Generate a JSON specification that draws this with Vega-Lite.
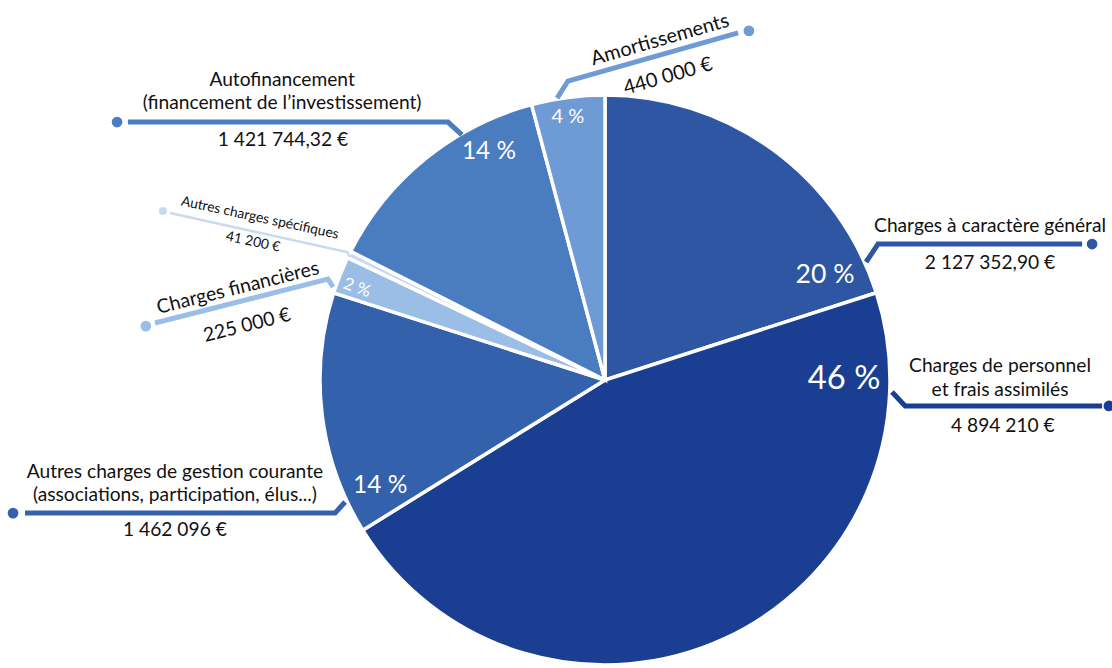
{
  "$schema": "https://vega.github.io/schema/vega-lite/v6.json",
  "width": 1014,
  "height": 576,
  "autosize": {"type": "none"},
  "padding": {"left": 98, "top": 92, "right": 0, "bottom": 0},
  "background": "white",
  "config": {"view": {"stroke": null}, "font": "Lato"},
  "datasets": {
    "slices": [
      {"poste": "Charges à caractère général", "value": 2127352.90, "pct": 20.05, "pctText": "20 %", "rank": 1, "lu": 0.772, "lv": 0.368},
      {"poste": "Charges de personnel et frais assimilés", "value": 4894210, "pct": 46.12, "pctText": "46 %", "rank": 2, "lu": 0.839, "lv": 0.004},
      {"poste": "Autres charges de gestion courante", "value": 1462096, "pct": 13.78, "pctText": "14 %", "rank": 3, "lu": -0.789, "lv": -0.372},
      {"poste": "Charges financières", "value": 225000, "pct": 2.12, "pctText": "2 %", "rank": 4, "lu": -0.870, "lv": 0.323},
      {"poste": "Autres charges spécifiques", "value": 41200, "pct": 0.39, "pctText": "", "rank": 5, "lu": -0.9, "lv": 0.4},
      {"poste": "Autofinancement", "value": 1421744.32, "pct": 13.40, "pctText": "14 %", "rank": 6, "lu": -0.407, "lv": 0.800},
      {"poste": "Amortissements", "value": 440000, "pct": 4.15, "pctText": "4 %", "rank": 7, "lu": -0.130, "lv": 0.923}
    ],
    "leaders": [
      {"poste": "Charges à caractère général", "seq": 1, "u": 0.916, "v": 0.414},
      {"poste": "Charges à caractère général", "seq": 2, "u": 0.958, "v": 0.477},
      {"poste": "Charges à caractère général", "seq": 3, "u": 1.674, "v": 0.477},
      {"poste": "Charges de personnel et frais assimilés", "seq": 1, "u": 1.007, "v": -0.042},
      {"poste": "Charges de personnel et frais assimilés", "seq": 2, "u": 1.053, "v": -0.091},
      {"poste": "Charges de personnel et frais assimilés", "seq": 3, "u": 1.744, "v": -0.091},
      {"poste": "Autres charges de gestion courante", "seq": 1, "u": -0.912, "v": -0.428},
      {"poste": "Autres charges de gestion courante", "seq": 2, "u": -0.947, "v": -0.467},
      {"poste": "Autres charges de gestion courante", "seq": 3, "u": -2.035, "v": -0.467},
      {"poste": "Charges financières", "seq": 1, "u": -0.954, "v": 0.326},
      {"poste": "Charges financières", "seq": 2, "u": -0.972, "v": 0.354},
      {"poste": "Charges financières", "seq": 3, "u": -1.579, "v": 0.200},
      {"poste": "Autres charges spécifiques", "seq": 1, "u": -0.895, "v": 0.432},
      {"poste": "Autres charges spécifiques", "seq": 2, "u": -0.905, "v": 0.449},
      {"poste": "Autres charges spécifiques", "seq": 3, "u": -1.526, "v": 0.586},
      {"poste": "Autofinancement", "seq": 1, "u": -0.502, "v": 0.860},
      {"poste": "Autofinancement", "seq": 2, "u": -0.551, "v": 0.905},
      {"poste": "Autofinancement", "seq": 3, "u": -1.674, "v": 0.905},
      {"poste": "Amortissements", "seq": 1, "u": -0.168, "v": 0.989},
      {"poste": "Amortissements", "seq": 2, "u": -0.130, "v": 1.049},
      {"poste": "Amortissements", "seq": 3, "u": 0.467, "v": 1.218}
    ],
    "dots": [
      {"poste": "Charges à caractère général", "u": 1.709, "v": 0.477},
      {"poste": "Charges de personnel et frais assimilés", "u": 1.768, "v": -0.091},
      {"poste": "Autres charges de gestion courante", "u": -2.077, "v": -0.467},
      {"poste": "Charges financières", "u": -1.611, "v": 0.189},
      {"poste": "Autres charges spécifiques", "u": -1.551, "v": 0.593},
      {"poste": "Autofinancement", "u": -1.712, "v": 0.905},
      {"poste": "Amortissements", "u": 0.505, "v": 1.225}
    ],
    "labels": [
      {"txt": "Charges à caractère général", "u": 1.351, "v": 0.540, "grp": "h"},
      {"txt": "2 127 352,90 €", "u": 1.351, "v": 0.411, "grp": "h"},
      {"txt": "Charges de personnel", "u": 1.386, "v": 0.050, "grp": "h"},
      {"txt": "et frais assimilés", "u": 1.386, "v": -0.035, "grp": "h"},
      {"txt": "4 894 210 €", "u": 1.396, "v": -0.163, "grp": "h"},
      {"txt": "Autres charges de gestion courante", "u": -1.509, "v": -0.323, "grp": "h"},
      {"txt": "(associations, participation, élus...)", "u": -1.509, "v": -0.404, "grp": "h"},
      {"txt": "1 462 096 €", "u": -1.509, "v": -0.526, "grp": "h"},
      {"txt": "Charges financières", "u": -1.288, "v": 0.323, "grp": "fin"},
      {"txt": "225 000 €", "u": -1.256, "v": 0.192, "grp": "fin"},
      {"txt": "Autres charges spécifiques", "u": -1.211, "v": 0.568, "grp": "spe"},
      {"txt": "41 200 €", "u": -1.235, "v": 0.484, "grp": "spe"},
      {"txt": "Autofinancement", "u": -1.133, "v": 1.053, "grp": "h"},
      {"txt": "(financement de l’investissement)", "u": -1.133, "v": 0.972, "grp": "h"},
      {"txt": "1 421 744,32 €", "u": -1.130, "v": 0.842, "grp": "h"},
      {"txt": "Amortissements", "u": 0.193, "v": 1.193, "grp": "amo"},
      {"txt": "440 000 €", "u": 0.221, "v": 1.065, "grp": "amo"}
    ]
  },
  "layer": [
    {
      "data": {"name": "slices"},
      "mark": {"type": "arc", "outerRadius": 285, "stroke": "white", "strokeWidth": 3.5},
      "encoding": {
        "theta": {"field": "value", "type": "quantitative", "stack": true},
        "order": {"field": "rank", "type": "quantitative"},
        "color": {
          "field": "poste", "type": "nominal", "legend": null,
          "scale": {
            "domain": ["Charges à caractère général", "Charges de personnel et frais assimilés", "Autres charges de gestion courante", "Charges financières", "Autres charges spécifiques", "Autofinancement", "Amortissements"],
            "range": ["#2E56A3", "#1A3F92", "#3461AC", "#9BBEE6", "#C8DAF2", "#4A7CC0", "#6E9BD5"]
          }
        }
      }
    },
    {
      "data": {"name": "leaders"},
      "transform": [{"filter": "datum.poste !== 'Autres charges spécifiques'"}],
      "mark": {"type": "line", "strokeWidth": 5, "strokeCap": "butt", "strokeJoin": "miter"},
      "encoding": {
        "x": {"field": "u", "type": "quantitative", "scale": {"domain": [-1.7789, 1.7789], "nice": false, "zero": false}, "axis": null},
        "y": {"field": "v", "type": "quantitative", "scale": {"domain": [-1.0105, 1.0105], "nice": false, "zero": false}, "axis": null},
        "detail": {"field": "poste"},
        "order": {"field": "seq", "type": "quantitative"},
        "color": {"field": "poste", "type": "nominal", "legend": null}
      }
    },
    {
      "data": {"name": "leaders"},
      "transform": [{"filter": "datum.poste === 'Autres charges spécifiques'"}],
      "mark": {"type": "line", "strokeWidth": 2.5, "strokeCap": "butt", "strokeJoin": "miter"},
      "encoding": {
        "x": {"field": "u", "type": "quantitative"},
        "y": {"field": "v", "type": "quantitative"},
        "detail": {"field": "poste"},
        "order": {"field": "seq", "type": "quantitative"},
        "color": {"field": "poste", "type": "nominal", "legend": null}
      }
    },
    {
      "data": {"name": "dots"},
      "transform": [{"filter": "datum.poste !== 'Autres charges spécifiques'"}],
      "mark": {"type": "point", "shape": "circle", "filled": true, "opacity": 1, "size": 115},
      "encoding": {
        "x": {"field": "u", "type": "quantitative"},
        "y": {"field": "v", "type": "quantitative"},
        "color": {"field": "poste", "type": "nominal", "legend": null}
      }
    },
    {
      "data": {"name": "dots"},
      "transform": [{"filter": "datum.poste === 'Autres charges spécifiques'"}],
      "mark": {"type": "point", "shape": "circle", "filled": true, "opacity": 1, "size": 65},
      "encoding": {
        "x": {"field": "u", "type": "quantitative"},
        "y": {"field": "v", "type": "quantitative"},
        "color": {"field": "poste", "type": "nominal", "legend": null}
      }
    },
    {
      "data": {"name": "slices"},
      "transform": [{"filter": "datum.pctText !== '' && datum.poste !== 'Charges financières'"}],
      "mark": {"type": "text", "color": "white", "align": "center", "baseline": "middle", "font": "Lato"},
      "encoding": {
        "x": {"field": "lu", "type": "quantitative"},
        "y": {"field": "lv", "type": "quantitative"},
        "text": {"field": "pctText"},
        "size": {"field": "pct", "type": "quantitative", "legend": null, "scale": {"type": "sqrt", "zero": false, "domain": [2.12, 46.12], "range": [18.5, 32.7]}}
      }
    },
    {
      "data": {"name": "slices"},
      "transform": [{"filter": "datum.poste === 'Charges financières'"}],
      "mark": {"type": "text", "color": "white", "align": "center", "baseline": "middle", "font": "Lato", "angle": 20, "fontSize": 17},
      "encoding": {
        "x": {"field": "lu", "type": "quantitative"},
        "y": {"field": "lv", "type": "quantitative"},
        "text": {"field": "pctText"}
      }
    },
    {
      "data": {"name": "labels"},
      "transform": [{"filter": "datum.grp === 'h'"}],
      "mark": {"type": "text", "color": "#111111", "align": "center", "baseline": "middle", "font": "Lato", "fontSize": 19.2},
      "encoding": {
        "x": {"field": "u", "type": "quantitative"},
        "y": {"field": "v", "type": "quantitative"},
        "text": {"field": "txt"}
      }
    },
    {
      "data": {"name": "labels"},
      "transform": [{"filter": "datum.grp === 'fin'"}],
      "mark": {"type": "text", "color": "#111111", "align": "center", "baseline": "middle", "font": "Lato", "fontSize": 19.5, "angle": -14},
      "encoding": {
        "x": {"field": "u", "type": "quantitative"},
        "y": {"field": "v", "type": "quantitative"},
        "text": {"field": "txt"}
      }
    },
    {
      "data": {"name": "labels"},
      "transform": [{"filter": "datum.grp === 'spe'"}],
      "mark": {"type": "text", "color": "#111111", "align": "center", "baseline": "middle", "font": "Lato", "fontSize": 13.8, "angle": 12},
      "encoding": {
        "x": {"field": "u", "type": "quantitative"},
        "y": {"field": "v", "type": "quantitative"},
        "text": {"field": "txt"}
      }
    },
    {
      "data": {"name": "labels"},
      "transform": [{"filter": "datum.grp === 'amo'"}],
      "mark": {"type": "text", "color": "#111111", "align": "center", "baseline": "middle", "font": "Lato", "fontSize": 20, "angle": -16},
      "encoding": {
        "x": {"field": "u", "type": "quantitative"},
        "y": {"field": "v", "type": "quantitative"},
        "text": {"field": "txt"}
      }
    }
  ]
}
